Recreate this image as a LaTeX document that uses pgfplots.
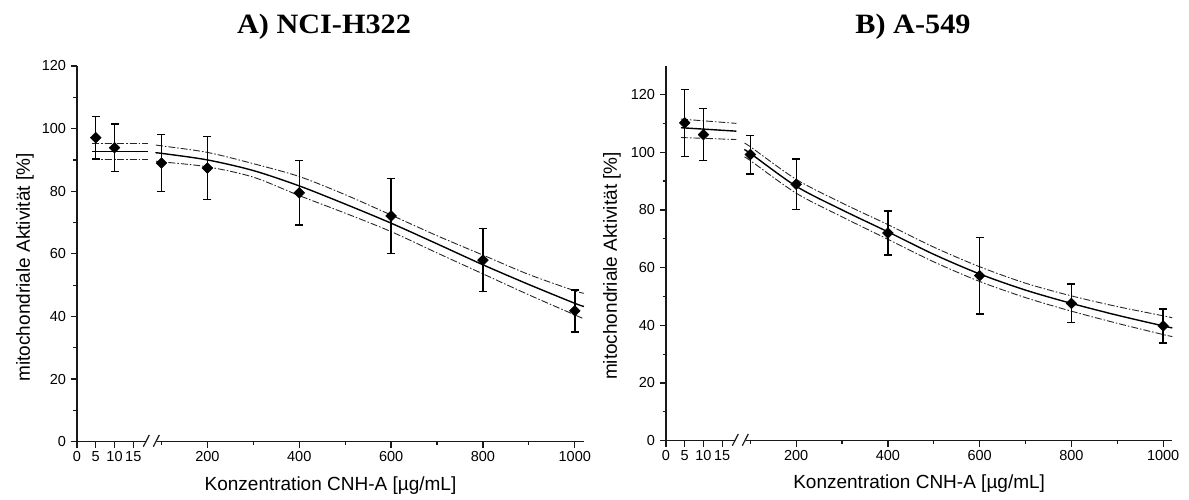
\documentclass[border=0pt]{standalone}
\usepackage{fontspec}
\setmainfont{Liberation Sans}
\newfontfamily\titlefont{Liberation Serif}[FakeStretch=1.08]
\usepackage{pgfplots}
\pgfplotsset{compat=1.18}

\pgfplotsset{
 brk/.style={
  scale only axis,
  axis lines=left,
  axis line style={-, line width=1.3pt, black!90},
  x coord trafo/.code={\pgfmathparse{(##1<50)?(##1*3.75):((##1-200)*0.459+130.3)}},
  xmin=0, xmax=1020, ymin=0,
  xtick={0,5,10,15,200,400,600,800,1000},
  xticklabels={0,5,10,15,200,400,600,800,1000},
  minor xtick={100,300,500,700,900},
  tick align=outside,
  major tick length=6pt, minor tick length=3.5pt,
  tick style={line width=1.2pt, black!90},
  tick label style={font=\fontsize{14.5}{16}\selectfont},
  yticklabel style={xshift=-1.5pt},
  /pgf/number format/assume math mode=true,
  label style={font=\fontsize{19}{22}\selectfont},
  xlabel={Konzentration CNH-A [µg/mL]},
  ylabel={mitochondriale Aktivität [\%]},
  xlabel style={at={(axis description cs:0.5,-0.1286)}, anchor=base},
  clip=false,
 },
 fit/.style={black, line width=1.4pt, no marks, smooth},
 ci/.style={black!85, line width=0.9pt, no marks, smooth, dash pattern=on 7pt off 2pt on 1.5pt off 2pt},
 pts/.style={only marks, black, line width=1.4pt, mark=square*, mark options={rotate=45, black, line width=0.5pt}, mark size=3.8pt,
   error bars/.cd, y dir=both, y explicit,
   error bar style={line width=1.4pt, black},
   error mark options={rotate=90, line width=1.4pt, mark size=4pt, black}},
}

\begin{document}
\begin{tikzpicture}
\useasboundingbox (0,0) rectangle (1189pt,500pt);

\node[anchor=base, font={\titlefont\bfseries\fontsize{28}{30}\selectfont}] at (324pt,466.7pt) {A) NCI-H322};
\node[anchor=base, font={\titlefont\bfseries\fontsize{28}{30}\selectfont}] at (913pt,466.7pt) {B) A-549};

% ---------------- Panel A ----------------
\begin{axis}[brk, at={(77pt,58.3pt)}, anchor=south west, width=507pt, height=375.7pt,
  ymax=120, ytick={0,20,...,120}, minor ytick={10,30,...,110},
  ylabel style={at={(axis description cs:-0.1026,0.464)}, anchor=center}]
\addplot[ci] coordinates {(4,95.3) (18.8,95.3)};
\addplot[ci] coordinates {(4,90.0) (18.8,90.0)};
\addplot[fit] coordinates {(4,92.7) (18.8,92.7)};
\addplot[ci] coordinates {(88,94.7)(100,94.5)(200,92.4)(300,88.8)(400,84.7)(500,78.9)(600,72.4)(700,65.8)(800,59.6)(900,53.4)(1000,48.2)(1020,47.4)};
\addplot[ci] coordinates {(88,89.6)(100,89.4)(200,87.8)(300,84.5)(400,78.6)(500,73.0)(600,67.1)(700,60.3)(800,53.6)(900,46.9)(1000,40.5)(1020,39.2)};
\addplot[fit] coordinates {(88,92.2)(100,92.1)(200,90.0)(300,86.6)(400,81.7)(500,75.9)(600,69.8)(700,63.2)(800,56.5)(900,50.2)(1000,44.2)(1020,43.2)};
\addplot[pts] table[x=x, y=y, y error=e] {
x y e
5 97.1 6.8
10 93.9 7.6
100 89.0 9.1
200 87.4 10.0
400 79.5 10.3
600 72.1 12.0
800 58.0 10.0
1000 41.8 6.7
};
\end{axis}
\begin{scope}[shift={(77pt,58.3pt)}]
 \fill[white] (68.5pt,-1.3pt) rectangle (80pt,1.3pt);
 \draw[line width=1.2pt, black!90] (66.3pt,-5pt) -- (72.3pt,6.7pt);
 \draw[line width=1.2pt, black!90] (76.3pt,-5pt) -- (82.3pt,6.7pt);
\end{scope}

% ---------------- Panel B ----------------
\begin{axis}[brk, at={(666pt,59.3pt)}, anchor=south west, width=506.3pt, height=375pt,
  ymax=130, ytick={0,20,...,120}, minor ytick={10,30,...,110},
  ylabel style={at={(axis description cs:-0.1067,0.466)}, anchor=center}]
\addplot[ci] coordinates {(4,111.5) (18.8,110.0)};
\addplot[ci] coordinates {(4,105.1) (18.8,104.4)};
\addplot[fit] coordinates {(4,108.5) (18.8,107.3)};
\addplot[ci] coordinates {(88,103.0)(100,101.9)(200,90.6)(300,82.4)(400,74.9)(500,67.1)(600,60.3)(700,54.6)(800,50.2)(900,46.5)(1000,43.3)(1020,42.6)};
\addplot[ci] coordinates {(88,98.2)(100,97.1)(200,85.8)(300,77.6)(400,69.8)(500,62.0)(600,55.2)(700,49.6)(800,44.9)(900,40.7)(1000,36.8)(1020,36.1)};
\addplot[fit] coordinates {(88,100.7)(100,99.6)(200,88.2)(300,80.0)(400,72.4)(500,64.6)(600,57.8)(700,52.2)(800,47.6)(900,43.5)(1000,39.8)(1020,39.1)};
\addplot[pts] table[x=x, y=y, y error=e] {
x y e
5 110.2 11.6
10 106.1 9.0
100 99.2 6.7
200 88.9 8.7
400 72.0 7.6
600 57.2 13.3
800 47.6 6.7
1000 39.8 5.9
};
\end{axis}
\begin{scope}[shift={(666pt,59.3pt)}]
 \fill[white] (68.5pt,-1.3pt) rectangle (80pt,1.3pt);
 \draw[line width=1.2pt, black!90] (66.3pt,-5pt) -- (72.3pt,6.7pt);
 \draw[line width=1.2pt, black!90] (76.3pt,-5pt) -- (82.3pt,6.7pt);
\end{scope}
\end{tikzpicture}
\end{document}
